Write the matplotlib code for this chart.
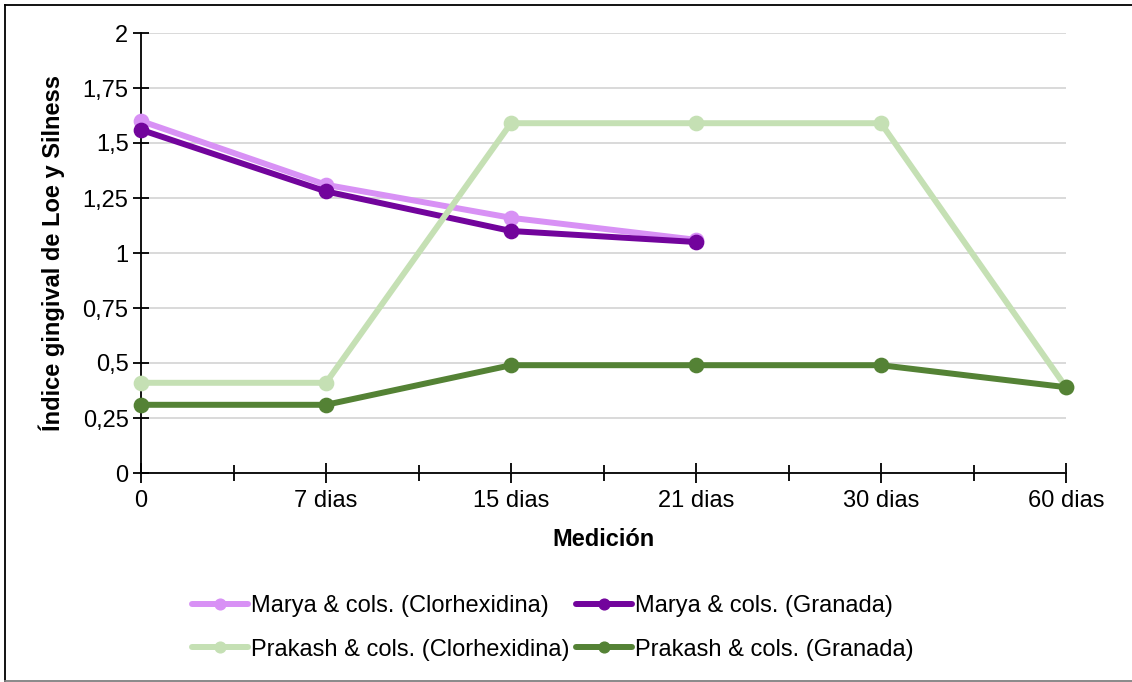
import matplotlib
matplotlib.use("Agg")
import matplotlib.pyplot as plt
from matplotlib.lines import Line2D
from matplotlib.ticker import FuncFormatter, MultipleLocator, FixedLocator

plt.rcParams['font.family'] = ['Liberation Sans', 'DejaVu Sans']

categories = ["0", "7 dias", "15 dias", "21 dias", "30 dias", "60 dias"]

marya_clorhexidina = [1.60, 1.31, 1.16, 1.06]
marya_granada = [1.56, 1.28, 1.10, 1.05]
prakash_clorhexidina = [0.41, 0.41, 1.59, 1.59, 1.59, 0.39]
prakash_granada = [0.31, 0.31, 0.49, 0.49, 0.49, 0.39]

series = [
    ("Marya & cols. (Clorhexidina)", marya_clorhexidina, "#d891f5"),
    ("Marya & cols. (Granada)", marya_granada, "#72049c"),
    ("Prakash & cols. (Clorhexidina)", prakash_clorhexidina, "#c5e0b4"),
    ("Prakash & cols. (Granada)", prakash_granada, "#548235"),
]

FS = 17
W, H = 1132, 682

fig = plt.figure(figsize=(W / 100, H / 100), dpi=100)
ax = fig.add_axes([141 / W, 1 - 473 / H, (1066 - 141) / W, (473 - 33) / H])

handles = {}
for name, vals, color in series:
    x = list(range(len(vals)))
    (ln,) = ax.plot(x, vals, color=color, lw=4.3, marker='o', markersize=10.3,
                    solid_joinstyle='round', solid_capstyle='round',
                    clip_on=False, zorder=3, label=name)
    handles[name] = ln

ax.set_xlim(0, len(categories) - 1)
ax.set_ylim(0, 2)
ax.xaxis.set_major_locator(FixedLocator(range(len(categories))))
ax.set_xticklabels(categories)
ax.xaxis.set_minor_locator(FixedLocator([i + 0.5 for i in range(len(categories) - 1)]))
ax.yaxis.set_major_locator(MultipleLocator(0.25))
ax.yaxis.set_major_formatter(FuncFormatter(lambda v, p: f"{v:g}".replace('.', ',')))

ax.grid(axis='y', color='#d9d9d9', lw=1.4, zorder=0)
ax.set_axisbelow(True)
for s in ('top', 'right'):
    ax.spines[s].set_visible(False)
for s in ('left', 'bottom'):
    ax.spines[s].set_linewidth(1.3)
    ax.spines[s].set_color('black')
    ax.spines[s].set_zorder(2)

ax.tick_params(axis='y', which='major', direction='inout', length=12, width=1.3,
               labelsize=FS, pad=3)
ax.tick_params(axis='x', which='major', direction='inout', length=14, width=1.3,
               labelsize=FS, pad=5)
ax.tick_params(axis='x', which='minor', direction='inout', length=11, width=1.3)

ax.set_xlabel("Medición", fontsize=FS, fontweight='bold')
ax.set_ylabel("Índice gingival de Loe y Silness", fontsize=FS, fontweight='bold')
ax.xaxis.set_label_coords(0.5, (473 - 528) / 440)
ax.yaxis.set_label_coords((65 - 141) / 925, 0.5)

order = ["Marya & cols. (Clorhexidina)", "Prakash & cols. (Clorhexidina)",
         "Marya & cols. (Granada)", "Prakash & cols. (Granada)"]
fig.legend([handles[n] for n in order], order, ncol=2, loc='center',
           bbox_to_anchor=(553 / W, 1 - 628 / H), frameon=False,
           fontsize=FS, handlelength=2.35, handletextpad=0.13,
           columnspacing=0.3, labelspacing=0.9, markerscale=0.75,
           borderpad=0, borderaxespad=0)

# outer frame: dark top/left edges, grey bottom edge
fig.add_artist(Line2D([4.5 / W, 1], [1 - 4.5 / H, 1 - 4.5 / H], transform=fig.transFigure,
                      color='black', lw=1.3))
fig.add_artist(Line2D([4.5 / W, 4.5 / W], [1 - 4.5 / H, 0], transform=fig.transFigure,
                      color='black', lw=1.3))
fig.add_artist(Line2D([4.5 / W, 1], [1.2 / H, 1.2 / H], transform=fig.transFigure,
                      color='#808080', lw=1.3))

fig.savefig("out.png", dpi=100)
